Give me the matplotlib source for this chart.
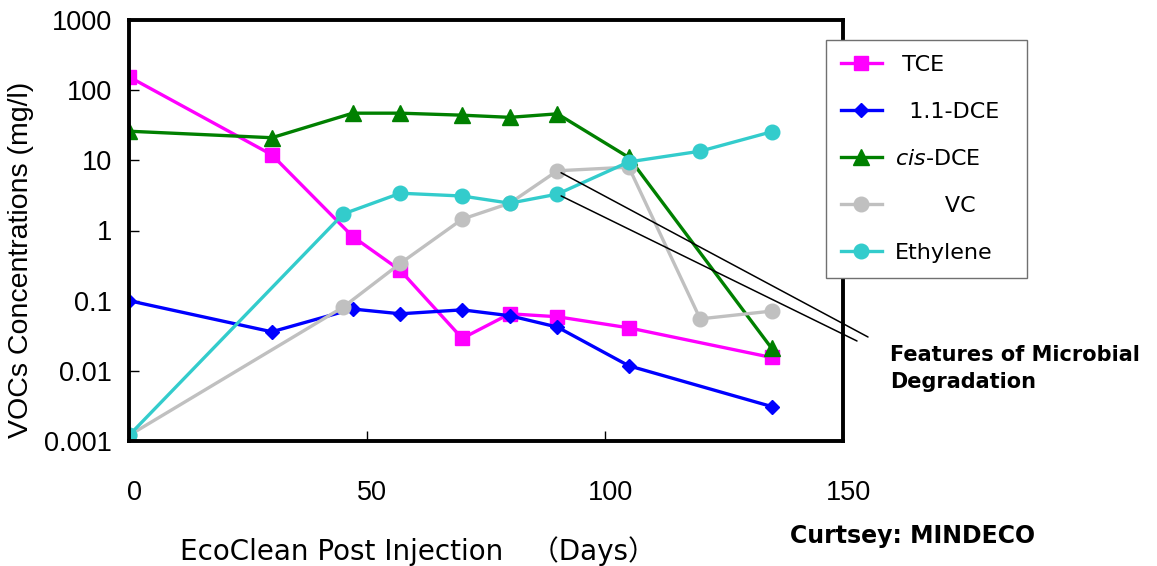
import numpy as np
import matplotlib
matplotlib.use('Agg')
import matplotlib.pyplot as plt
from matplotlib.ticker import FixedLocator, FuncFormatter
from matplotlib.transforms import ScaledTranslation

# ---------------------------------------------------------------- data
DAYS_TCE = [0, 30, 47, 57, 70, 80, 90, 105, 135]
TCE = [155, 12, 0.82, 0.27, 0.029, 0.065, 0.059, 0.041, 0.0155]

DAYS_DCE11 = [0, 30, 47, 57, 70, 80, 90, 105, 135]
DCE11 = [0.1, 0.036, 0.076, 0.065, 0.074, 0.061, 0.042, 0.0118, 0.0031]

DAYS_CIS = [0, 30, 47, 57, 70, 80, 90, 105, 135]
CIS = [26, 21, 47, 47, 44, 41, 46, 11, 0.021]

DAYS_VC = [0, 45, 57, 70, 80, 90, 105, 120, 135]
VC = [0.0012, 0.081, 0.34, 1.45, 2.45, 7.1, 8.0, 0.055, 0.071]

DAYS_ETH = [0, 45, 57, 70, 80, 90, 105, 120, 135]
ETH = [0.0012, 1.72, 3.4, 3.1, 2.45, 3.3, 9.5, 13.5, 25.5]

YTICKS = [0.001, 0.01, 0.1, 1, 10, 100, 1000]
XTICKS = [0, 50, 100, 150]

MAGENTA, BLUE, GREEN, GRAY, CYAN = '#ff00ff', '#0000ff', '#008000', '#c0c0c0', '#33cccc'
TICKFONT = ['Liberation Sans', 'DejaVu Sans']
LABELFONT = ['DejaVu Sans', 'Noto Sans CJK JP']

W, H = 1157, 566
fig = plt.figure(figsize=(W / 100, H / 100), dpi=100)
ax = fig.add_axes([129 / W, 1 - 441 / H, (843 - 129) / W, (441 - 20) / H])

LW = 2.4
ax.plot(DAYS_TCE, TCE, color=MAGENTA, lw=LW, marker='s', ms=10, label=' TCE')
ax.plot(DAYS_DCE11, DCE11, color=BLUE, lw=LW, marker='D', ms=7.5, label='  1.1-DCE')
ax.plot(DAYS_CIS, CIS, color=GREEN, lw=LW, marker='^', ms=11, label=r'$\it{cis}$-DCE')
ax.plot(DAYS_VC, VC, color=GRAY, lw=LW, marker='o', ms=10.5, label='       VC')
ax.plot(DAYS_ETH, ETH, color=CYAN, lw=LW, marker='o', ms=10.5, label='Ethylene')

ax.set_yscale('log')
ax.set_xlim(0, 150)
ax.set_ylim(0.001, 1000)
ax.yaxis.set_major_locator(FixedLocator(YTICKS))
ax.yaxis.set_minor_locator(FixedLocator([]))
ax.yaxis.set_major_formatter(FuncFormatter(lambda v, _: f'{v:g}'))
ax.set_xticks(XTICKS)
ax.tick_params(direction='in', length=7, width=1, colors='black')
ax.tick_params(axis='x', pad=28)
ax.tick_params(axis='y', pad=12)
for lab in ax.get_xticklabels() + ax.get_yticklabels():
    lab.set_family(TICKFONT)
    lab.set_fontsize(19.5)
# the day labels sit a little right of their ticks in the original
nudge = ScaledTranslation(5 / 100, 0, fig.dpi_scale_trans)
for lab in ax.get_xticklabels():
    lab.set_transform(lab.get_transform() + nudge)
for s in ax.spines.values():
    s.set_linewidth(2.8)
    s.set_color('black')

ax.set_xlabel('EcoClean Post Injection\u3000（Days）', family=LABELFONT, fontsize=20)
ax.xaxis.set_label_coords((418 - 129) / 714, (441 - 536) / 421)
ax.set_ylabel('VOCs Concentrations (mg/l)', family=TICKFONT, fontsize=20.5)
ax.yaxis.set_label_coords((34 - 129) / 714, (441 - 260) / 421)

leg = ax.legend(loc='upper left', mode='expand',
                bbox_to_anchor=(826 / W, 1 - 271 / H, 201 / W, 231 / H),
                bbox_transform=fig.transFigure, borderaxespad=0,
                prop={'family': 'DejaVu Sans', 'size': 16}, fancybox=False,
                framealpha=1, edgecolor='#707070', handlelength=1.85,
                handletextpad=0.6, labelspacing=1.22, borderpad=0.66)
leg.get_frame().set_linewidth(1.0)

# leader lines to the note (from the day-90 VC and ethylene points)
ax.annotate('', xy=(DAYS_VC[5], VC[5]), xytext=(868 / W, 1 - 337 / H),
            textcoords='figure fraction', annotation_clip=False,
            arrowprops=dict(arrowstyle='-', color='black', lw=1.1, shrinkA=0, shrinkB=3))
ax.annotate('', xy=(DAYS_ETH[5], ETH[5]), xytext=(857 / W, 1 - 341 / H),
            textcoords='figure fraction', annotation_clip=False,
            arrowprops=dict(arrowstyle='-', color='black', lw=1.1, shrinkA=0, shrinkB=3))

fig.text(890 / W, 1 - 345 / H, 'Features of Microbial\nDegradation', fontsize=15,
         fontweight='bold', family='DejaVu Sans', ha='left', va='top', linespacing=1.45)
fig.text(790 / W, 1 - 524 / H, 'Curtsey: MINDECO', fontsize=17,
         fontweight='bold', family='DejaVu Sans', ha='left', va='top')

fig.savefig('out.png', dpi=100, facecolor='white')
